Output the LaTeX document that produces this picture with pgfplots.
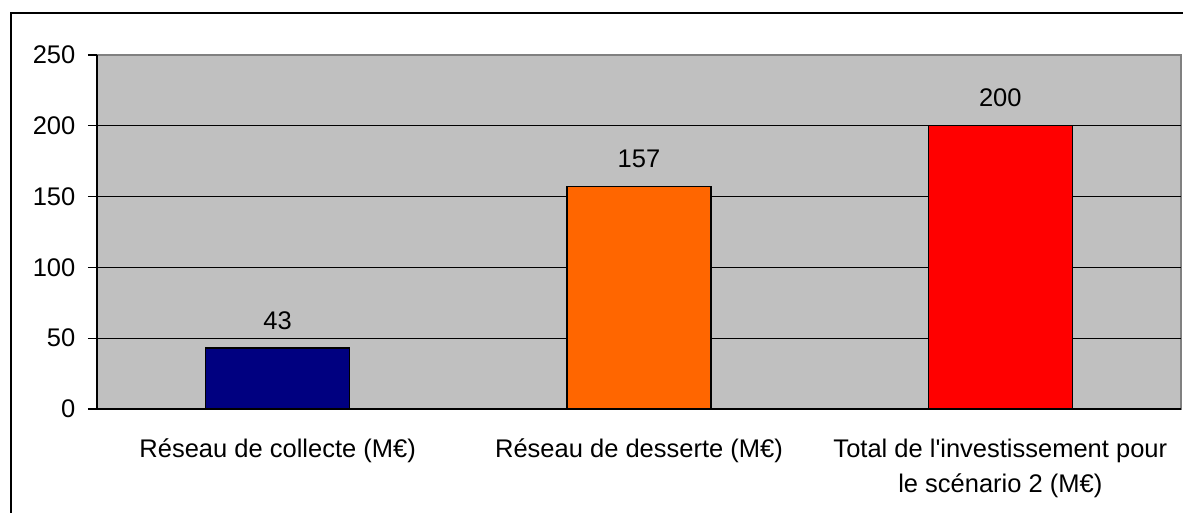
\documentclass[border=0pt]{standalone}
\usepackage{pgfplots}
\pgfplotsset{compat=1.18}
\usepackage{fontspec}
\setmainfont{Liberation Sans}
\definecolor{bggray}{HTML}{C0C0C0}
\definecolor{bordergray}{HTML}{808080}
\definecolor{navyb}{HTML}{000080}
\definecolor{orangeb}{HTML}{FF6600}
\definecolor{redb}{HTML}{FF0000}
\begin{document}
\fontsize{25.5}{35}\selectfont
\begin{tikzpicture}
\path[use as bounding box] (0,0) rectangle (1183pt,513pt);
\draw[line width=2pt] (11pt,-2pt) -- (11pt,500pt) -- (1185pt,500pt);
\begin{axis}[
  at={(97pt,104pt)}, anchor=south west,
  scale only axis, width=1084pt, height=354pt,
  xmin=0.5, xmax=3.5, ymin=0, ymax=250,
  axis x line*=bottom, axis y line*=left,
  axis line style={line width=1.3pt, black, -},
  axis background/.style={fill=bggray, draw=bordergray, line width=1.3pt},
  ytick={0,50,100,150,200},
  extra y ticks={250},
  extra y tick style={grid=none},
  ymajorgrids, grid style={black, line width=1pt},
  xtick={1,2,3},
  xticklabels={R\'eseau de collecte (M€), R\'eseau de desserte (M€), {Total de l\textquotesingle investissement pour\\le sc\'enario 2 (M€)}},
  x tick style={draw=none},
  extra x ticks={0.5,1.5,2.5,3.5},
  extra x tick labels={},
  extra x tick style={major tick length=8pt, tick align=outside, tick style={draw=black, line width=1.3pt}, grid=none},
  y tick style={draw=black, line width=1.3pt},
  major tick length=9pt, tick align=outside,
  tick label style={font=\fontsize{25.5}{35}\selectfont},
  xticklabel style={align=center, yshift=-12pt},
  yticklabel style={xshift=-4pt},
  /pgf/number format/assume math mode=true,
  ybar, bar width=144pt, bar shift=0pt,
  nodes near coords,
  every node near coord/.append style={font=\fontsize{25.5}{35}\selectfont, anchor=south, inner sep=0pt, yshift=18pt, black},
  clip=false,
]
\addplot[fill=navyb, draw=black, line width=1.3pt] coordinates {(1,43)};
\addplot[fill=orangeb, draw=black, line width=1.3pt] coordinates {(2,157)};
\addplot[fill=redb, draw=black, line width=1.3pt] coordinates {(3,200)};
\end{axis}
\end{tikzpicture}
\end{document}
